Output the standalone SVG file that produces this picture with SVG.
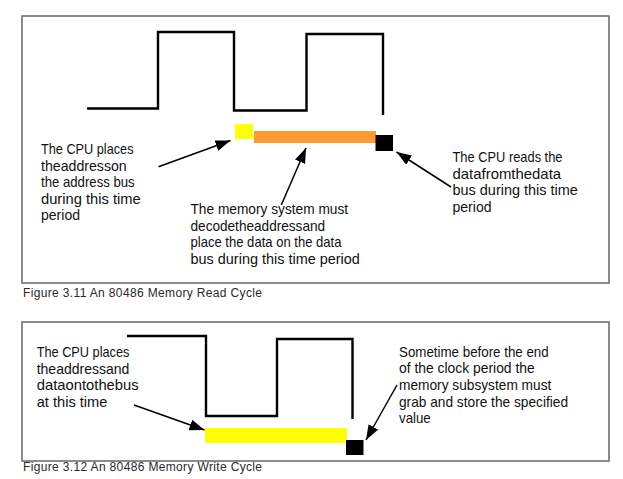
<svg xmlns="http://www.w3.org/2000/svg" width="623" height="479" viewBox="0 0 623 479">
<style>
.frame{fill:none;stroke:#707070;stroke-width:1.6}
.clk{fill:none;stroke:#000;stroke-width:2.4;stroke-linejoin:miter}
.lbl{font-family:"Liberation Sans",Arial,sans-serif;font-size:14.2px;fill:#111}
.cap{font-family:"Liberation Sans",Arial,sans-serif;font-size:12px;fill:#2a2a2a}
.arr{stroke:#000;stroke-width:1.5;fill:none;marker-end:url(#ah)}
</style>
<defs>
<marker id="ah" markerUnits="userSpaceOnUse" markerWidth="16" markerHeight="12" refX="15" refY="5.5" orient="auto">
<path d="M0,0 L15,5.5 L0,11 z" fill="#000"/>
</marker>
</defs>
<rect width="623" height="479" fill="#fff"/>

<g id="figure1">
<rect class="frame" x="22" y="16" width="587" height="267"/>
<g id="clock1"><path class="clk" d="M87,108.5 H158 V32 H234 V110.5 H306.5 V34 H383 V115"/></g>
<g id="addr-slot"><rect x="235" y="124" width="18" height="15" fill="#ffff00"/></g>
<g id="decode-slot"><rect x="254" y="131" width="122" height="12" fill="#ff9933"/></g>
<g id="read-slot"><rect x="375.5" y="135" width="17.5" height="16" fill="#000"/></g>
<g id="label-cpu-places">
<text class="lbl" x="41" y="154" textLength="92.5" lengthAdjust="spacingAndGlyphs">The CPU places</text>
<text class="lbl" x="41" y="170.5" textLength="85.7" lengthAdjust="spacingAndGlyphs">theaddresson</text>
<text class="lbl" x="41" y="187" textLength="93.7" lengthAdjust="spacingAndGlyphs">the address bus</text>
<text class="lbl" x="41" y="203.5" textLength="99.8" lengthAdjust="spacingAndGlyphs">during this time</text>
<text class="lbl" x="41" y="220" textLength="39" lengthAdjust="spacingAndGlyphs">period</text>
</g>
<g id="label-memory">
<text class="lbl" x="190.5" y="214" textLength="157.6" lengthAdjust="spacingAndGlyphs">The memory system must</text>
<text class="lbl" x="190.5" y="230.7" textLength="134.6" lengthAdjust="spacingAndGlyphs">decodetheaddressand</text>
<text class="lbl" x="190.5" y="247.3" textLength="151" lengthAdjust="spacingAndGlyphs">place the data on the data</text>
<text class="lbl" x="190.5" y="264" textLength="169.4" lengthAdjust="spacingAndGlyphs">bus during this time period</text>
</g>
<g id="label-cpu-reads">
<text class="lbl" x="452.5" y="162" textLength="110" lengthAdjust="spacingAndGlyphs">The CPU reads the</text>
<text class="lbl" x="452.5" y="178.5" textLength="108.6" lengthAdjust="spacingAndGlyphs">datafromthedata</text>
<text class="lbl" x="452.5" y="195" textLength="125.4" lengthAdjust="spacingAndGlyphs">bus during this time</text>
<text class="lbl" x="452.5" y="211.5" textLength="39" lengthAdjust="spacingAndGlyphs">period</text>
</g>
<text class="cap" x="23" y="297" textLength="239">Figure 3.11 An 80486 Memory Read Cycle</text>
</g>

<g id="figure2">
<rect class="frame" x="22" y="322" width="587" height="139"/>
<g id="clock2"><path class="clk" d="M127,336 H206 V416 H277 V339 H352.5 V419"/></g>
<g id="write-slot"><rect x="205" y="428" width="142" height="15" fill="#ffff00"/></g>
<g id="store-slot"><rect x="346" y="440" width="17.5" height="15" fill="#000"/></g>
<g id="label-cpu-places2">
<text class="lbl" x="36.7" y="357" textLength="92.7" lengthAdjust="spacingAndGlyphs">The CPU places</text>
<text class="lbl" x="36.7" y="373.5" textLength="92.7" lengthAdjust="spacingAndGlyphs">theaddressand</text>
<text class="lbl" x="36.7" y="390" textLength="102" lengthAdjust="spacingAndGlyphs">dataontothebus</text>
<text class="lbl" x="36.7" y="406.5" textLength="70.7" lengthAdjust="spacingAndGlyphs">at this time</text>
</g>
<g id="label-sometime">
<text class="lbl" x="399" y="356.7" textLength="149.7" lengthAdjust="spacingAndGlyphs">Sometime before the end</text>
<text class="lbl" x="399" y="373.3" textLength="135.7" lengthAdjust="spacingAndGlyphs">of the clock period the</text>
<text class="lbl" x="399" y="390" textLength="152.3" lengthAdjust="spacingAndGlyphs">memory subsystem must</text>
<text class="lbl" x="399" y="406.5" textLength="169" lengthAdjust="spacingAndGlyphs">grab and store the specified</text>
<text class="lbl" x="399" y="423" textLength="31.7" lengthAdjust="spacingAndGlyphs">value</text>
</g>
<text class="cap" x="23" y="471" textLength="239">Figure 3.12 An 80486 Memory Write Cycle</text>
</g>

<g id="connectors">
<line class="arr" x1="158.5" y1="166.7" x2="230.5" y2="140.5"/>
<line class="arr" x1="281.3" y1="205" x2="306" y2="148"/>
<line class="arr" x1="451" y1="187" x2="396.5" y2="152"/>
<line class="arr" x1="134" y1="405" x2="204.5" y2="430"/>
<line class="arr" x1="397" y1="385" x2="366" y2="440"/>
</g>
</svg>
